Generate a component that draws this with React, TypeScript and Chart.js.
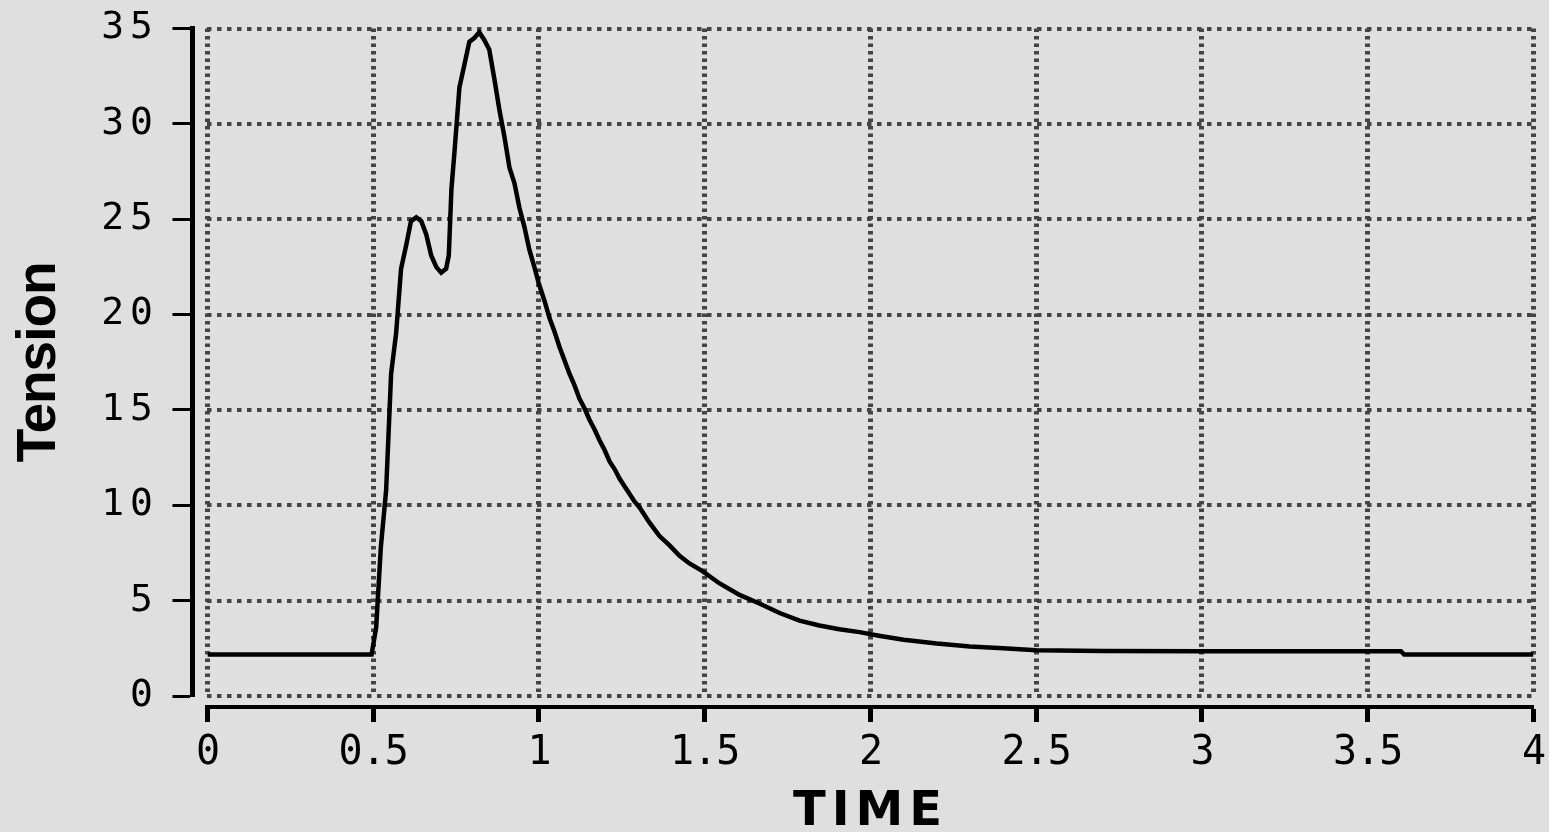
import React, { useEffect, useRef } from 'react';
import { Chart, registerables } from 'chart.js';

Chart.register(...registerables);

// ---- data ----
const timeValues = [
  0, 0.495, 0.509, 0.523, 0.539, 0.554, 0.569, 0.584, 0.599, 0.614, 0.63, 0.645, 0.66, 0.675, 0.69, 0.705,
  0.72, 0.728, 0.736, 0.745, 0.76, 0.775, 0.79, 0.805, 0.82, 0.835, 0.85, 0.866, 0.881, 0.896, 0.911, 0.926,
  0.941, 0.956, 0.971, 0.986, 1.0, 1.017, 1.032, 1.047, 1.062, 1.077, 1.092, 1.107, 1.122, 1.137, 1.152,
  1.167, 1.183, 1.198, 1.213, 1.228, 1.243, 1.258, 1.273, 1.288, 1.303, 1.333, 1.363, 1.394, 1.424, 1.454,
  1.493, 1.545, 1.605, 1.665, 1.726, 1.786, 1.846, 1.906, 1.967, 2.03, 2.1, 2.2, 2.3, 2.4, 2.5, 2.7, 3.0,
  3.6, 3.61, 4.0,
];
const tensionValues = [
  2.17, 2.17, 3.6, 7.8, 10.8, 16.9, 19.0, 22.4, 23.6, 24.9, 25.1, 24.9, 24.2, 23.1, 22.5, 22.2,
  22.4, 23.1, 26.6, 28.5, 31.9, 33.1, 34.3, 34.5, 34.8, 34.4, 33.9, 32.3, 30.7, 29.3, 27.7, 26.9,
  25.6, 24.6, 23.4, 22.5, 21.6, 20.7, 19.8, 19.1, 18.3, 17.6, 16.9, 16.3, 15.6, 15.1, 14.5,
  14.0, 13.4, 12.9, 12.3, 11.9, 11.4, 11.0, 10.6, 10.2, 9.9, 9.1, 8.4, 7.9, 7.35, 6.95,
  6.55, 5.9, 5.3, 4.85, 4.35, 3.95, 3.7, 3.5, 3.35, 3.15, 2.95, 2.75, 2.6, 2.5, 2.4, 2.36, 2.35,
  2.35, 2.17, 2.17,
];
const xTickValues = [0, 0.5, 1, 1.5, 2, 2.5, 3, 3.5, 4];
const yTickValues = [0, 5, 10, 15, 20, 25, 30, 35];
const xTitle = 'TIME';
const yTitle = 'Tension';

const W = 1549;
const H = 832;

const monoFamily = '"DejaVu Sans Mono", monospace';

export default function App() {
  const ref = useRef<HTMLCanvasElement>(null);

  useEffect(() => {
    const canvas = ref.current;
    if (!canvas) return;

    // letter spacing: layers before the datasets (y title, x tick labels) are tight,
    // layers after the datasets (y tick labels, x title) are spaced out
    const spacingPlugin = {
      id: 'letterSpacingLayers',
      beforeUpdate(c: any) { c.ctx.letterSpacing = '0px'; },
      beforeDraw(c: any) { c.ctx.letterSpacing = '-1px'; },
      afterDatasetsDraw(c: any) { c.ctx.letterSpacing = '6px'; },
      afterDraw(c: any) { c.ctx.letterSpacing = '0px'; },
    };

    const chart = new Chart(canvas, {
      type: 'line',
      data: {
        datasets: [
          {
            data: timeValues.map((t, i) => ({ x: t, y: tensionValues[i] })),
            borderColor: '#000',
            borderWidth: 4.5,
            pointRadius: 0,
            tension: 0,
            fill: false,
            xAxisID: 'x',
            yAxisID: 'y',
          },
        ],
      },
      options: {
        responsive: false,
        animation: false,
        layout: { padding: { left: 0, right: 15.5, top: 28.5, bottom: 0 } },
        plugins: { legend: { display: false }, tooltip: { enabled: false } },
        scales: {
          x: {
            type: 'linear',
            position: 'bottom',
            weight: 0,
            min: 0,
            max: 4,
            afterBuildTicks: (s: any) => { s.ticks = xTickValues.map((v) => ({ value: v })); },
            ticks: { display: false },
            grid: { color: '#444', lineWidth: 5, drawTicks: true, tickLength: 11, tickColor: 'rgba(0,0,0,0)' },
            border: { display: false, dash: [3.5, 4] },
          },
          y: {
            type: 'linear',
            position: 'left',
            weight: 0,
            min: 0,
            max: 35,
            afterBuildTicks: (s: any) => { s.ticks = yTickValues.map((v) => ({ value: v })); },
            ticks: { display: false },
            grid: { color: '#444', lineWidth: 4, drawTicks: true, tickLength: 15, tickColor: 'rgba(0,0,0,0)' },
            border: { display: false, dash: [4.5, 5.5] },
          },
          xAxis: {
            type: 'linear',
            position: 'bottom',
            weight: 1,
            min: 0,
            max: 4,
            afterBuildTicks: (s: any) => { s.ticks = xTickValues.map((v) => ({ value: v })); },
            ticks: {
              autoSkip: false,
              maxRotation: 0,
              color: '#000',
              font: { family: monoFamily, size: 40, lineHeight: 1.6 },
              padding: 0,
              z: 0,
              callback: (v: any) => String(v),
            },
            grid: { drawOnChartArea: false, drawTicks: true, tickLength: 15, tickWidth: 5, tickColor: '#000', z: 1 },
            border: { display: true, width: 4, color: '#000', z: 1 },
            title: {
              display: true,
              text: xTitle,
              color: '#000',
              font: { family: '"DejaVu Sans", sans-serif', weight: 'bold', size: 48, lineHeight: 1 },
              padding: { top: 3, bottom: -5 },
            },
          },
          yAxis: {
            type: 'linear',
            position: 'left',
            weight: 1,
            min: 0,
            max: 35,
            afterBuildTicks: (s: any) => { s.ticks = yTickValues.map((v) => ({ value: v })); },
            ticks: {
              color: '#000',
              font: { family: monoFamily, size: 38, lineHeight: 0.5 },
              padding: 13.5,
              z: 1,
              callback: (v: any) => String(v),
            },
            grid: { drawOnChartArea: false, drawTicks: true, tickLength: 20, tickWidth: 3, tickColor: '#000' },
            border: { display: true, width: 5, color: '#000' },
            title: {
              display: true,
              text: yTitle,
              color: '#000',
              font: { family: '"Liberation Sans", Arial, sans-serif', weight: 'bold', size: 55, lineHeight: 1 },
              padding: { top: 12.1, bottom: 32.6 },
            },
          },
        },
      } as any,
      plugins: [spacingPlugin as any],
    });

    return () => chart.destroy();
  }, []);

  return (
    <div style={{ position: 'fixed', left: 0, top: 0, width: W, height: H, background: '#dfdfdf' }}>
      <canvas ref={ref} width={W} height={H} style={{ display: 'block', width: W, height: H }} />
    </div>
  );
}
